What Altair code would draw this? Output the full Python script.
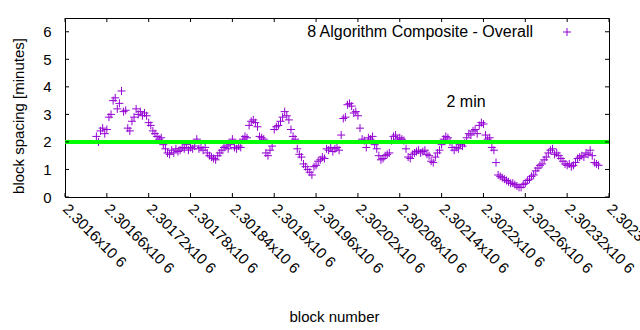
import altair as alt
import pandas as pd

# ---- data ----
start_block = 2301645
block_step = 3
spacing = [
    2.2, 2.0, 2.4, 2.5, 2.3, 2.45, 2.9, 3.0, 3.5, 3.6,
    3.2, 3.4, 3.85, 3.1, 3.15, 2.5, 2.4, 2.75, 2.9, 3.2,
    3.0, 3.1, 2.95, 3.05, 2.95, 2.7, 2.6, 2.4, 2.3, 2.2,
    2.1, 2.15, 1.9, 1.75, 1.6, 1.55, 1.7, 1.6, 1.75, 1.65,
    1.7, 1.8, 1.75, 1.9, 1.7, 1.8, 1.75, 1.85, 2.1, 1.75,
    1.8, 1.7, 1.8, 1.6, 1.5, 1.45, 1.4, 1.35, 1.5, 1.6,
    1.7, 1.8, 1.85, 1.75, 1.9, 2.1, 1.8, 1.75, 1.85, 1.8,
    2.1, 2.2, 2.15, 2.6, 2.75, 2.8, 2.7, 2.55, 2.2, 2.15,
    2.1, 1.6, 1.5, 1.7, 1.85, 2.45, 2.55, 2.6, 2.75, 2.9,
    3.1, 2.95, 2.8, 2.45, 2.2, 2.1, 1.75, 1.55, 1.45, 1.2,
    1.1, 1.0, 0.9, 0.8, 1.1, 1.15, 1.3, 1.35, 1.45, 1.4,
    1.75, 1.7, 1.8, 1.65, 1.75, 1.8, 1.7, 2.25, 2.85, 2.9,
    3.35, 3.4, 3.3, 3.05, 3.1, 2.95, 2.5, 2.1, 2.05, 1.8,
    2.15, 2.1, 2.2, 1.9, 1.75, 1.5, 1.35, 1.4, 1.5, 1.55,
    1.6, 2.05, 2.2, 2.25, 2.1, 2.15, 2.1, 2.05, 1.75, 1.45,
    1.4, 1.55, 1.6, 1.65, 1.7, 1.6, 1.65, 1.7, 1.55, 1.5,
    1.3, 1.25, 1.45, 1.6, 1.7, 1.9, 2.1, 2.2, 2.15, 2.0,
    1.8, 1.7, 1.8, 1.75, 1.9, 1.85, 1.95, 2.15, 2.3, 2.25,
    2.4, 2.45, 2.3, 2.6, 2.7, 2.65, 2.25, 2.1, 2.15, 1.8,
    1.7, 1.25, 0.8, 0.75, 0.7, 0.65, 0.6, 0.55, 0.5, 0.5,
    0.45, 0.4, 0.35, 0.35, 0.45, 0.5, 0.6, 0.65, 0.75, 0.8,
    0.95, 1.05, 1.15, 1.2, 1.35, 1.45, 1.6, 1.7, 1.75, 1.55,
    1.6, 1.5, 1.4, 1.3, 1.2, 1.15, 1.2, 1.1, 1.15, 1.25,
    1.4, 1.45, 1.5, 1.45, 1.6, 1.55, 1.7, 1.5, 1.25, 1.2,
    1.15,
]
blocks = [start_block + block_step * i for i in range(len(spacing))]

x_ticks = [2301600 + 60 * k for k in range(14)]
y_ticks = [0, 1, 2, 3, 4, 5, 6]
target_minutes = [2]
series_name = "8 Algorithm Composite - Overall"
note_text = ["2 min"]
note_block = [2302147]
note_value = [3.45]

W, H = 544, 179
FONT = "Liberation Sans"
FS = 15
PURPLE = "#9400d3"
PLUS = "M-1,0L1,0M0,-1L0,1"

df = pd.DataFrame({"block": blocks, "spacing": spacing})
xs = alt.Scale(domain=[2301600, 2302380], nice=False, zero=False)
ys = alt.Scale(domain=[0, 6.5], nice=False, zero=True)

X_AXIS = alt.Axis(
    values=x_ticks, tickSize=0, ticks=False, domain=False, grid=False,
    labelExpr="format(datum.value/1000000, '.5~f') + 'x10 6'",
    labelAngle=45, labelAlign="left", labelBaseline="middle",
    labelPadding=9, labelFont=FONT, labelFontSize=FS, labelColor="black",
    labelOverlap=False, labelFlush=False, labelBound=False,
    title="block number", titleFont=FONT, titleFontSize=FS,
    titleFontWeight="normal", titleColor="black",
    titleY=119, titleBaseline="middle", titleX=W / 2 - 3)
Y_AXIS = alt.Axis(
    values=y_ticks, tickSize=0, ticks=False, domain=False, grid=False,
    labelPadding=14, labelFont=FONT, labelFontSize=FS, labelColor="black",
    title="block spacing [minutes]", titleFont=FONT, titleFontSize=FS,
    titleFontWeight="normal", titleColor="black",
    titleX=-47, titleY=H / 2 + 8, titleBaseline="middle")

points = alt.Chart(df).mark_point(
    shape=PLUS, filled=False, strokeWidth=1, size=64, color=PURPLE, opacity=1
).encode(
    x=alt.X("block:Q", scale=xs, axis=X_AXIS),
    y=alt.Y("spacing:Q", scale=ys, axis=Y_AXIS),
)

green = alt.Chart(pd.DataFrame({"spacing": target_minutes})).mark_rule(
    color="#00ff00", strokeWidth=4
).encode(y=alt.Y("spacing:Q", scale=ys, axis=Y_AXIS))

xt = pd.DataFrame({"block": x_ticks})
yt = pd.DataFrame({"spacing": y_ticks})
tick_bottom = alt.Chart(xt).mark_rule(color="black").encode(
    x=alt.X("block:Q", scale=xs, axis=X_AXIS), y=alt.value(H), y2=alt.value(H - 4))
tick_top = alt.Chart(xt).mark_rule(color="black").encode(
    x=alt.X("block:Q", scale=xs, axis=X_AXIS), y=alt.value(0), y2=alt.value(4))
tick_left = alt.Chart(yt).mark_rule(color="black").encode(
    y=alt.Y("spacing:Q", scale=ys, axis=Y_AXIS), x=alt.value(0), x2=alt.value(4))
tick_right = alt.Chart(yt).mark_rule(color="black").encode(
    y=alt.Y("spacing:Q", scale=ys, axis=Y_AXIS), x=alt.value(W), x2=alt.value(W - 4))

note = alt.Chart(pd.DataFrame({"block": note_block, "spacing": note_value, "t": note_text})).mark_text(
    font=FONT, fontSize=16, align="left", baseline="middle", color="black"
).encode(x=alt.X("block:Q", scale=xs, axis=X_AXIS),
         y=alt.Y("spacing:Q", scale=ys, axis=Y_AXIS), text="t:N")

leg_df = pd.DataFrame({"name": [series_name]})
leg_text = alt.Chart(leg_df).mark_text(
    font=FONT, fontSize=16, align="right", baseline="middle", color="black"
).encode(x=alt.value(468), y=alt.value(14), text="name:N")
leg_sym = alt.Chart(leg_df).mark_point(
    shape=PLUS, filled=False, strokeWidth=1, size=64, color=PURPLE, opacity=1
).encode(x=alt.value(502), y=alt.value(14))

chart = alt.layer(
    points, green, tick_bottom, tick_top, tick_left, tick_right, note, leg_text, leg_sym
).properties(
    width=W, height=H,
    autosize=alt.AutoSizeParams(type="none"),
    padding={"left": 65, "top": 18, "right": 31, "bottom": 133},
    background="white",
).configure_view(stroke="black", strokeWidth=1)

chart.save("out.html", embed_options={"renderer": "svg", "actions": False})
